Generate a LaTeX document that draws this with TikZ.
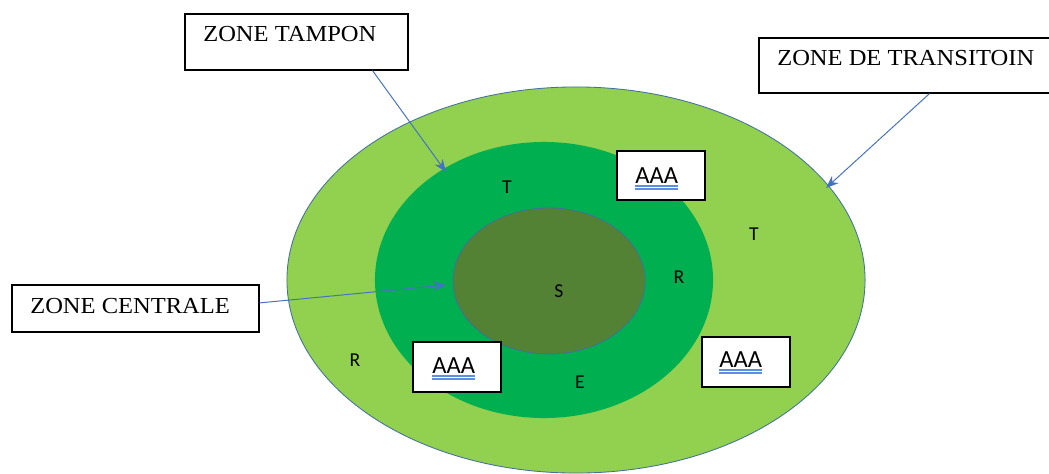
\documentclass[tikz,border=0pt]{standalone}
\usepackage{fontspec}
\setmainfont{Liberation Serif}[FakeStretch=1.07]
\newfontfamily\lettersfont{Carlito}
\usepackage{tikz}
\usetikzlibrary{arrows.meta}
\definecolor{zoneT}{HTML}{92D050}
\definecolor{zoneB}{HTML}{00B050}
\definecolor{zoneC}{HTML}{548235}
\definecolor{edge}{HTML}{41719C}
\definecolor{arrblue}{HTML}{4472C4}
\definecolor{wblue}{HTML}{5B8FE0}

\begin{document}
\begin{tikzpicture}[x=0.025cm, y=-0.025cm,
        box/.style = {draw, line width=0.8pt, fill=white, inner sep=0},
        txt/.style = {anchor=base west, inner sep=0, font=\fontsize{16.3}{19}\selectfont},
        lt/.style = {inner sep=0, font=\lettersfont\fontsize{14}{16}\selectfont},
        aaa/.style = {anchor=base west, inner sep=0, font=\lettersfont\fontsize{17.5}{20}\selectfont},
        arr/.style = {draw=arrblue, line width=0.7pt, -{Stealth[length=9pt, width=7pt]}},
        wl/.style = {draw=wblue, line width=0.9pt}]
        \useasboundingbox (0,0) rectangle (1049,473);

        % zones
        \filldraw[fill=zoneT, draw=edge, line width=0.6pt] (576,280) ellipse [x radius=7.225cm, y radius=4.825cm];
        \fill[zoneB] (544,280) ellipse [x radius=4.225cm, y radius=3.45cm];
        \filldraw[fill=zoneC, draw=edge, line width=0.6pt] (549,281) ellipse [x radius=2.4cm, y radius=1.825cm];

        % letters
        \node[lt] (T1) at (507,187) {T};
        \node[lt] (T2) at (754,234) {T};
        \node[lt] (R1) at (679,277) {R};
        \node[lt] (S) at (559,291) {S};
        \node[lt] (R2) at (355,360) {R};
        \node[lt] (E) at (580,382) {E};

        % labels
        \node[box, minimum width=5.575cm, minimum height=1.4cm] (1) at (296.5,42) {};
        \node[txt] (1t) at (203,42) {ZONE TAMPON};
        \node[box, minimum width=7.525cm, minimum height=1.375cm] (2) at (909.5,65.5) {};
        \node[txt] (2t) at (777,65) {ZONE DE TRANSITOIN};
        \node[box, minimum width=6.175cm, minimum height=1.175cm] (3) at (135.5,308.5) {};
        \node[txt] (3t) at (30,313) {ZONE CENTRALE};

        \coordinate (a1) at (446,172);
        \coordinate (a2) at (826,188);
        \coordinate (a3) at (446,285);
        \draw[arr] ([xshift=1.9cm]1.south) -- (a1);
        \draw[arr] ([xshift=0.5cm]2.south) -- (a2);
        \draw[arr] ([yshift=0.14cm]3.east) -- (a3);

        % AAA boxes
        \node[box, minimum width=2.2cm, minimum height=1.225cm] (4) at (661,175.5) {};
        \node[aaa] (4t) at (635,183) {AAA};
        \draw[wl] ([yshift=-0.075cm]4t.base west) -- ([yshift=-0.075cm]4t.base east);
        \draw[wl] ([yshift=-0.15cm]4t.base west) -- ([yshift=-0.15cm]4t.base east);

        \node[box, minimum width=2.2cm, minimum height=1.25cm] (5) at (457,367) {};
        \node[aaa] (5t) at (432,373) {AAA};
        \draw[wl] ([yshift=-0.075cm]5t.base west) -- ([yshift=-0.075cm]5t.base east);
        \draw[wl] ([yshift=-0.15cm]5t.base west) -- ([yshift=-0.15cm]5t.base east);

        \node[box, minimum width=2.2cm, minimum height=1.25cm] (6) at (746,362) {};
        \node[aaa] (6t) at (719,367) {AAA};
        \draw[wl] ([yshift=-0.075cm]6t.base west) -- ([yshift=-0.075cm]6t.base east);
        \draw[wl] ([yshift=-0.15cm]6t.base west) -- ([yshift=-0.15cm]6t.base east);
\end{tikzpicture}
\end{document}
